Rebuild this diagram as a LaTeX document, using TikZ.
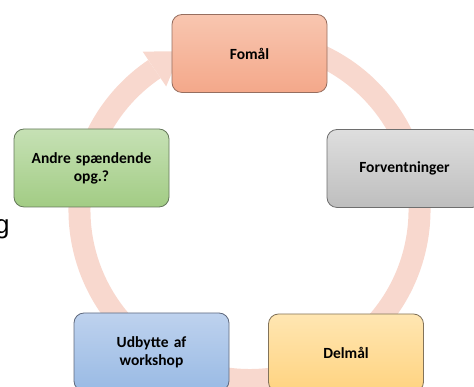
\documentclass[tikz,border=0pt]{standalone}
\usepackage{fontspec}
\setmainfont{Carlito}
\newfontfamily\gfont{Liberation Sans}
\usetikzlibrary{calc}
\definecolor{bandc}{RGB}{248,216,206}
\definecolor{fomT}{RGB}{248,198,176}
\definecolor{fomB}{RGB}{244,168,138}
\definecolor{fomD}{RGB}{150,110,95}
\definecolor{grnT}{RGB}{198,225,181}
\definecolor{grnB}{RGB}{162,204,132}
\definecolor{grnD}{RGB}{100,120,90}
\definecolor{gryT}{RGB}{222,222,222}
\definecolor{gryB}{RGB}{190,190,190}
\definecolor{gryD}{RGB}{110,110,110}
\definecolor{bluT}{RGB}{190,210,238}
\definecolor{bluB}{RGB}{153,186,228}
\definecolor{bluD}{RGB}{95,105,125}
\definecolor{ylwT}{RGB}{255,230,178}
\definecolor{ylwB}{RGB}{255,211,128}
\definecolor{ylwD}{RGB}{130,115,90}
\tikzset{
  box/.style={rounded corners=10pt, minimum width=155pt, minimum height=78pt,
    line width=0.8pt, align=center, text width=145pt,
    font=\bfseries\fontsize{15.5}{18}\selectfont},
  band/.style={draw=bandc, line width=22pt}
}
\begin{document}
\begin{tikzpicture}[x=1pt,y=1pt]
\clip (0,0) rectangle (474,387);
\coordinate (C) at (249.5,177);
% circular band
\draw[band] ([shift={(C)}]80:170) arc[start angle=80, end angle=-236, radius=170];
\coordinate (h1) at ($(C)+(124:191)$);
\coordinate (h2) at ($(C)+(124:149)$);
\coordinate (ht) at ($(C)+(124:170)+(34:32)$);
\fill[bandc] (h1) -- (ht) -- (h2) -- cycle;
% boxes
\node[box, draw=fomD, top color=fomT, bottom color=fomB] (fom) at (249.5,333.5) {Fomål};
\node[box, draw=grnD, top color=grnT, bottom color=grnB] (andre) at (91.5,219) {Andre spændende\\opg.?};
\node[box, draw=gryD, top color=gryT, bottom color=gryB] (forv) at (404.5,218.5) {Forventninger};
\node[box, draw=bluD, top color=bluT, bottom color=bluB] (udb) at (151.5,35) {Udbytte af\\workshop};
\node[box, draw=ylwD, top color=ylwT, bottom color=ylwB] (delm) at (346,34) {Delmål};
\node[anchor=base west, inner sep=0pt, font=\gfont\fontsize{26}{30}\selectfont] (g) at (-5,153.5) {g};
\end{tikzpicture}
\end{document}
